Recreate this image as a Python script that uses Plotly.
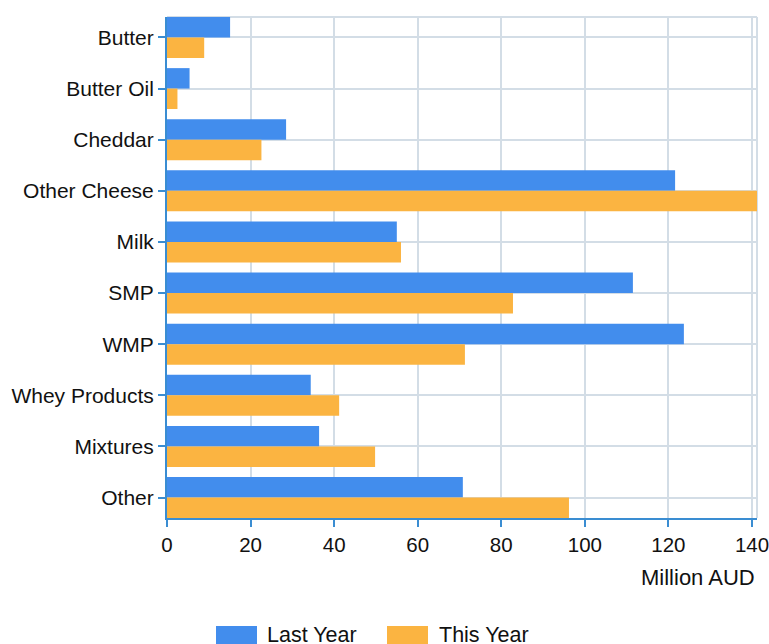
import plotly.graph_objects as go

categories = ["Butter", "Butter Oil", "Cheddar", "Other Cheese", "Milk", "SMP", "WMP",
              "Whey Products", "Mixtures", "Other"]
last_year = [15.1, 5.4, 28.5, 121.6, 55.0, 111.5, 123.7, 34.4, 36.4, 70.8]
this_year = [8.9, 2.5, 22.6, 141.2, 56.0, 82.8, 71.3, 41.2, 49.8, 96.2]
series_names = ["Last Year", "This Year"]
colors = ["#428ded", "#fbb441"]
x_ticks = [0, 20, 40, 60, 80, 100, 120, 140]
axis_title = "Million AUD"

FONT = "Liberation Sans, Arial, sans-serif"
GRID = "#d3dde6"
AXIS = "#3a8dd2"
TXT = "#111111"

PL, PR, PT, PB = 167, 757, 17, 518  # plot area in page pixels
W, H = 769, 644

fig = go.Figure()
for name, vals, col in zip(series_names, [last_year, this_year], colors):
    fig.add_trace(go.Bar(
        y=categories, x=vals, name=name, orientation="h",
        marker=dict(color=col, line=dict(width=0)),
        showlegend=False,
    ))

fig.update_layout(
    width=W, height=H, autosize=False,
    margin=dict(l=PL, r=W - PR, t=PT, b=H - PB, pad=0, autoexpand=False),
    paper_bgcolor="white", plot_bgcolor="white",
    barmode="group", bargap=0.2, bargroupgap=0,
    font=dict(family=FONT, size=21, color=TXT),
    xaxis=dict(
        range=[0, max(max(last_year), max(this_year))],
        tickvals=x_ticks, ticktext=[str(t) for t in x_ticks],
        showgrid=True, gridcolor=GRID, gridwidth=2,
        showline=True, linecolor=AXIS, linewidth=2,
        ticks="outside", ticklen=7, tickcolor=AXIS, tickwidth=2,
        zeroline=False, tickfont=dict(size=20.5),
        ticklabeloverflow="allow", automargin=False,
    ),
    yaxis=dict(
        categoryorder="array", categoryarray=categories,
        range=[len(categories) - 0.6, -0.4],
        showgrid=True, gridcolor=GRID, gridwidth=2,
        showline=True, linecolor=AXIS, linewidth=2,
        ticks="outside", ticklen=7, tickcolor=AXIS, tickwidth=2,
        zeroline=False, tickfont=dict(size=21), automargin=False,
    ),
    shapes=[
        dict(type="line", xref="paper", yref="paper", x0=0, x1=1, y0=1, y1=1,
             line=dict(color=GRID, width=2), layer="below"),
        dict(type="line", xref="paper", yref="paper", x0=1, x1=1, y0=0, y1=1,
             line=dict(color=GRID, width=2), layer="below"),
    ],
)

plot_w = PR - PL
plot_h = PB - PT


def px(xp):
    return (xp - PL) / plot_w


def py(yp):
    return (PB - yp) / plot_h


# axis title at right
fig.add_annotation(text=axis_title, xref="paper", yref="paper", x=px(757), y=py(577),
                   xanchor="right", yanchor="middle",
                   showarrow=False, font=dict(size=22, family=FONT, color=TXT))

# custom legend with wide swatches
leg_items = [(216, 265), (387, 437)]
for (sx, tx), name, col in zip(leg_items, series_names, colors):
    fig.add_shape(type="rect", xref="paper", yref="paper",
                  x0=px(sx), x1=px(sx + 41), y0=py(646), y1=py(626),
                  fillcolor=col, line=dict(width=0))
    fig.add_annotation(text=name, xref="paper", yref="paper", x=px(tx),
                       y=py(635), xanchor="left", yanchor="middle",
                       showarrow=False, font=dict(size=21.5, family=FONT, color=TXT))

post = ("document.documentElement.style.overflow='hidden';"
        "document.body.style.overflow='hidden';"
        "document.body.style.margin='0';")
fig.write_html("out.html", config={"responsive": False, "displayModeBar": False},
               post_script=post)
